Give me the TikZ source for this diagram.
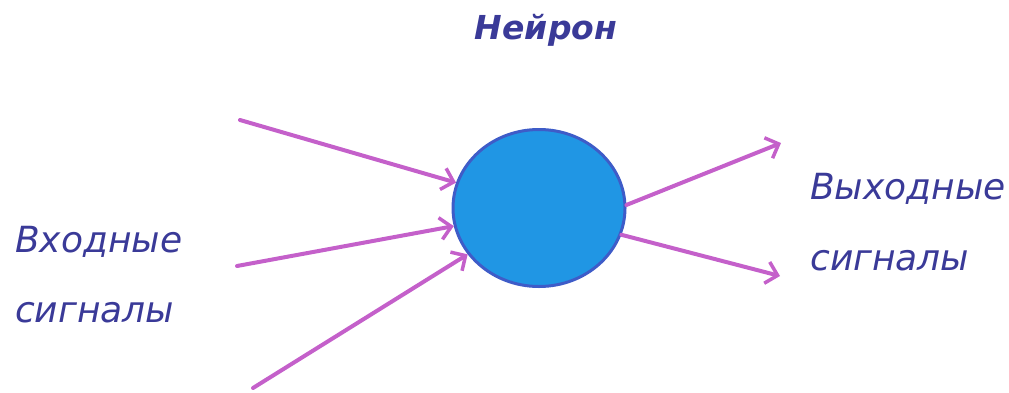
\documentclass[tikz,border=0pt]{standalone}
\usepackage{fontspec}
\setmainfont{DejaVu Sans}
\usepackage{tikz}
\usetikzlibrary{arrows.meta, shapes.geometric}

\definecolor{inkblue}{RGB}{58,58,152}
\definecolor{signal}{RGB}{196,96,202}
\definecolor{cellfill}{RGB}{32,150,228}
\definecolor{cellrim}{RGB}{62,92,200}

\tikzset{
  label/.style={font=\fontsize{36}{41}\selectfont\itshape, text=inkblue, inner sep=0pt, anchor=base west},
  wire/.style={signal, line width=4pt, line cap=round, -{Straight Barb[length=11pt, width=22pt, line width=3.5pt]}}
}

\begin{document}
\begin{tikzpicture}[x=1pt, y=-1pt]
                \useasboundingbox (0,0) rectangle (1009,392);
                
                \node[ellipse, fill=cellfill, draw=cellrim, line width=3pt,
                      minimum width=172pt, minimum height=157pt] (neuron) at (539,208) {};
                \node[font=\fontsize{33}{38}\selectfont\bfseries\itshape, text=inkblue, inner sep=0pt, anchor=base] (title) at (546,39) {Нейрон};
                
                \coordinate (in1) at (240,120);
                \coordinate (in2) at (237,266);
                \coordinate (in3) at (253,388);
                \coordinate (out1) at (781,143);
                \coordinate (out2) at (780,276);
                
                \draw[wire] (in1) -- (neuron.163);
                \draw[wire] (in2) -- (neuron.192);
                \draw[wire] (in3) -- (neuron.213);
                \draw[wire] (neuron.2) -- (out1);
                \draw[wire] (neuron.-18) -- (out2);
                
                \node[label] (inA) at (15,252) {Входные};
                \node[label] (inB) at (15,322) {сигналы};
                \node[label] (outA) at (810,199) {Выходные};
                \node[label] (outB) at (810,270) {сигналы};
            \end{tikzpicture}
\end{document}
